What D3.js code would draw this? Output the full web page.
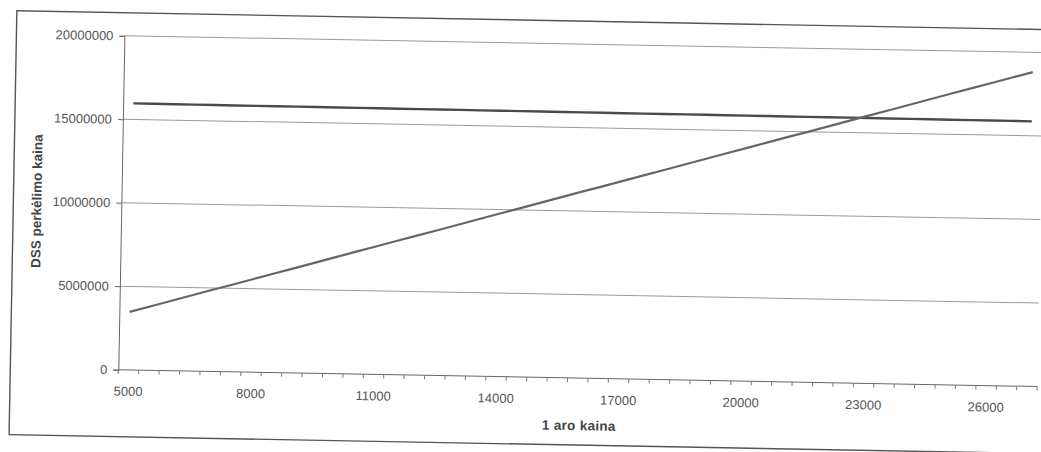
<!DOCTYPE html>
<html>
<head>
<meta charset="utf-8">
<script src="https://cdn.jsdelivr.net/npm/d3@7"></script>
<style>
  html, body { margin: 0; padding: 0; background: #fff; }
  svg { display: block; }
  text { font-family: "Liberation Sans", Arial, sans-serif; }
</style>
</head>
<body>
<svg id="chart" width="1041" height="452"></svg>
<script>
// Land price per are (categories, step 500)
const categories = [
  5000, 5500, 6000, 6500, 7000, 7500, 8000, 8500, 9000, 9500,
  10000, 10500, 11000, 11500, 12000, 12500, 13000, 13500, 14000, 14500,
  15000, 15500, 16000, 16500, 17000, 17500, 18000, 18500, 19000, 19500,
  20000, 20500, 21000, 21500, 22000, 22500, 23000, 23500, 24000, 24500,
  25000, 25500, 26000, 26500, 27000
];

// Relocation cost when the land is bought (rises with price per are)
const risingCost = [
  3470000, 3820000, 4170000, 4520000, 4870000, 5210000, 5560000, 5910000, 6260000, 6610000,
  6960000, 7310000, 7660000, 8010000, 8350000, 8700000, 9050000, 9400000, 9750000, 10100000,
  10450000, 10800000, 11150000, 11490000, 11840000, 12190000, 12540000, 12890000, 13240000, 13590000,
  13940000, 14290000, 14640000, 14980000, 15330000, 15680000, 16030000, 16380000, 16730000, 17080000,
  17430000, 17780000, 18120000, 18470000, 18820000
];

// Alternative relocation cost (almost constant)
const flatCost = [
  15958000, 15956000, 15954000, 15952000, 15950000, 15948000, 15946000, 15944000, 15942000, 15940000,
  15938000, 15936000, 15934000, 15932000, 15930000, 15928000, 15926000, 15924000, 15922000, 15920000,
  15918000, 15916000, 15914000, 15912000, 15910000, 15908000, 15906000, 15904000, 15902000, 15900000,
  15898000, 15896000, 15894000, 15892000, 15890000, 15888000, 15886000, 15884000, 15882000, 15880000,
  15878000, 15876000, 15874000, 15872000, 15870000
];

const xTickLabels = [5000, 8000, 11000, 14000, 17000, 20000, 23000, 26000];
const yTicks = [0, 5000000, 10000000, 15000000, 20000000];

const yTitle = "DSS perkėlimo kaina";
const xTitle = "1 aro kaina";

const svg = d3.select("#chart");
// The whole sheet sits at a slight tilt
const g = svg.append("g").attr("transform", "rotate(1.05, 520, 226)");

// Chart frame
g.append("rect")
  .attr("x", 13).attr("y", 20)
  .attr("width", 1060).attr("height", 424)
  .attr("fill", "#fff")
  .attr("stroke", "#555").attr("stroke-width", 1.4);

const plot = { left: 121, right: 1040, top: 43, bottom: 377 };

const x = d3.scaleBand()
  .domain(categories)
  .range([plot.left, plot.right])
  .paddingInner(0).paddingOuter(0);

const y = d3.scaleLinear()
  .domain([0, 20000000])
  .range([plot.bottom, plot.top]);

// Horizontal gridlines
g.append("g")
  .selectAll("line")
  .data(yTicks.filter(d => d > 0))
  .join("line")
  .attr("x1", plot.left).attr("x2", plot.right)
  .attr("y1", d => y(d)).attr("y2", d => y(d))
  .attr("stroke", "#9a9a9a").attr("stroke-width", 1);

// Y axis
const yAxis = g.append("g")
  .attr("transform", `translate(${plot.left},0)`)
  .call(d3.axisLeft(y).tickValues(yTicks).tickSize(5).tickPadding(6).tickFormat(d3.format("d")));
yAxis.select(".domain").attr("stroke", "#666").attr("stroke-width", 1);
yAxis.selectAll(".tick line").attr("stroke", "#666");
yAxis.selectAll(".tick text")
  .attr("font-size", 13).attr("fill", "#555")
  .attr("font-family", "'Liberation Sans', Arial, sans-serif");

// X axis: a tick at every category boundary, labels every sixth category
const boundaries = categories.map(c => x(c)).concat([plot.right]);
const xAxisG = g.append("g");
xAxisG.append("line")
  .attr("x1", plot.left).attr("x2", plot.right)
  .attr("y1", plot.bottom).attr("y2", plot.bottom)
  .attr("stroke", "#666").attr("stroke-width", 1);
xAxisG.selectAll("line.tick")
  .data(boundaries)
  .join("line")
  .attr("class", "tick")
  .attr("x1", d => d).attr("x2", d => d)
  .attr("y1", plot.bottom).attr("y2", plot.bottom + 4)
  .attr("stroke", "#777").attr("stroke-width", 1);
xAxisG.selectAll("text")
  .data(xTickLabels)
  .join("text")
  .attr("x", d => x(d) + x.bandwidth() / 2)
  .attr("y", plot.bottom + 26)
  .attr("text-anchor", "middle")
  .attr("font-size", 13).attr("fill", "#555")
  .text(d => d);

// Axis titles
g.append("text")
  .attr("transform", `translate(41, ${(plot.top + plot.bottom) / 2}) rotate(-90)`)
  .attr("text-anchor", "middle")
  .attr("font-size", 13.5).attr("font-weight", "bold").attr("fill", "#444")
  .text(yTitle);

g.append("text")
  .attr("x", (plot.left + plot.right) / 2 + 2)
  .attr("y", 429)
  .attr("text-anchor", "middle")
  .attr("font-size", 13.5).attr("font-weight", "bold").attr("fill", "#444")
  .attr("letter-spacing", 0.3)
  .text(xTitle);

// Series lines
const line = d3.line()
  .x((d, i) => x(categories[i]) + x.bandwidth() / 2)
  .y(d => y(d));

g.append("path")
  .datum(flatCost)
  .attr("d", line)
  .attr("fill", "none")
  .attr("stroke", "#4a4a4a").attr("stroke-width", 2.4);

g.append("path")
  .datum(risingCost)
  .attr("d", line)
  .attr("fill", "none")
  .attr("stroke", "#666").attr("stroke-width", 2.2);
</script>
</body>
</html>
